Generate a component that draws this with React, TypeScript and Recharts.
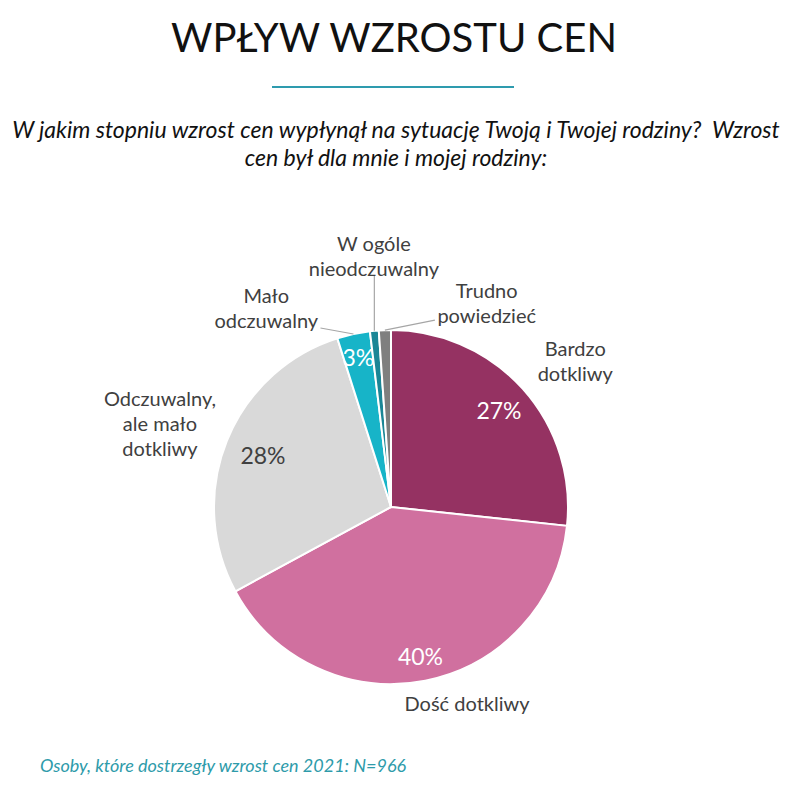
import React from "react";
import { PieChart, Pie, Cell } from "recharts";

const categories = [
  "Bardzo dotkliwy",
  "Dość dotkliwy",
  "Odczuwalny, ale mało dotkliwy",
  "Mało odczuwalny",
  "W ogóle nieodczuwalny",
  "Trudno powiedzieć",
];
const shares = [26.7, 40.4, 28.0, 3.0, 0.8, 1.1];
const labelLines = [
  ["Bardzo", "dotkliwy"],
  ["Dość dotkliwy"],
  ["Odczuwalny,", "ale mało", "dotkliwy"],
  ["Mało", "odczuwalny"],
  ["W ogóle", "nieodczuwalny"],
  ["Trudno", "powiedzieć"],
];
const showPercent = [true, true, true, true, false, false];

const colors = ["#953262", "#D0709F", "#D9D9D9", "#17B4C8", "#1A8696", "#7F7F7F"];
const percentColors = ["#fff", "#fff", "#404040", "#fff", "#fff", "#fff"];

// label placement: radius factor + angle shift for the names, plus a small nudge
const nameLayout = [
  { r: 1.32, da: -4, dx: 0, dy: -3 },
  { r: 1.19, da: 10, dx: 0, dy: 0 },
  { r: 1.38, da: 3, dx: 0, dy: -5 },
  { r: 1.28, da: 17.6, dx: -12, dy: -3 },
  { r: 1.42, da: -1.5, dx: 0, dy: -1 },
  { r: 1.26, da: -27.4, dx: 0, dy: -3 },
];
const pctRadius = [0.82, 0.86, 0.78, 0.87, 0, 0];
const leaders: Array<[number, number] | null> = [null, null, null, [-33, -6], [0, -55], [50, -10]];

const data = categories.map((name, i) => ({ name, value: shares[i] }));

const RAD = Math.PI / 180;
const FONT = "Lato, 'Open Sans', sans-serif";

const renderLabel = (props: any) => {
  const { cx, cy, midAngle, outerRadius, index } = props;
  const lay = nameLayout[index];
  const a = (midAngle + lay.da) * RAD;
  const nx = cx + outerRadius * lay.r * Math.cos(a) + lay.dx;
  const ny = cy - outerRadius * lay.r * Math.sin(a) + lay.dy;
  const lines = labelLines[index];
  const lh = 25;
  const y0 = ny - ((lines.length - 1) * lh) / 2;
  const m = midAngle * RAD;
  const pr = outerRadius * pctRadius[index];
  const lead = leaders[index];
  const ex = cx + outerRadius * Math.cos(m);
  const ey = cy - outerRadius * Math.sin(m);
  return (
    <g key={"lbl" + index}>
      {lead && (
        <line x1={ex} y1={ey} x2={ex + lead[0]} y2={ey + lead[1]} stroke="#A6A6A6" strokeWidth={1.2} />
      )}
      <text x={nx} textAnchor="middle" dominantBaseline="central" fill="#404040" fontSize={20} fontFamily={FONT}>
        {lines.map((l, k) => (
          <tspan key={k} x={nx} y={y0 + k * lh}>
            {l}
          </tspan>
        ))}
      </text>
      {showPercent[index] && (
        <text
          x={cx + pr * Math.cos(m)}
          y={cy - pr * Math.sin(m)}
          textAnchor="middle"
          dominantBaseline="central"
          fill={percentColors[index]}
          fontSize={23}
          fontFamily={FONT}
        >
          {Math.round(shares[index])}%
        </text>
      )}
    </g>
  );
};

export default function App() {
  return (
    <div style={{ position: "absolute", left: 0, top: 0, width: 788, height: 802, background: "#fff", fontFamily: FONT }}>
      <div style={{ position: "absolute", top: 13, left: 0, width: 788, textAlign: "center", fontSize: 40, color: "#111" }}>
        WPŁYW WZROSTU CEN
      </div>
      <div style={{ position: "absolute", top: 86, left: 272, width: 242, height: 2, background: "#2E9BAE" }} />
      <div
        style={{
          position: "absolute",
          top: 115,
          left: 2,
          width: 788,
          textAlign: "center",
          fontSize: 23,
          fontStyle: "italic",
          color: "#111",
          lineHeight: "28px",
        }}
      >
        W jakim stopniu wzrost cen wypłynął na sytuację Twoją i Twojej rodziny?&nbsp; Wzrost
        <br />
        cen był dla mnie i mojej rodziny:
      </div>
      <div style={{ position: "absolute", top: 0, left: 0 }}>
        <PieChart width={788} height={802}>
          <Pie
            data={data}
            dataKey="value"
            nameKey="name"
            cx={386}
            cy={502}
            outerRadius={177}
            startAngle={90}
            endAngle={-270}
            stroke="#fff"
            strokeWidth={2}
            label={renderLabel}
            labelLine={false}
            isAnimationActive={false}
          >
            {data.map((d, i) => (
              <Cell key={d.name} fill={colors[i]} />
            ))}
          </Pie>
        </PieChart>
      </div>
      <div style={{ position: "absolute", top: 754, left: 40, fontSize: 18, fontStyle: "italic", color: "#2E9BAA" }}>
        Osoby, które dostrzegły wzrost cen 2021: N=966
      </div>
    </div>
  );
}
